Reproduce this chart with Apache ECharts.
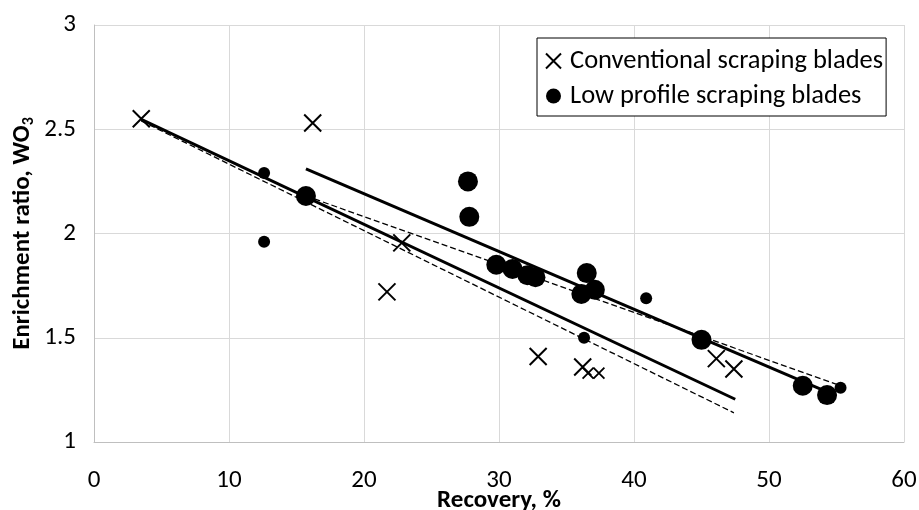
<!DOCTYPE html>
<html>
<head>
<meta charset="utf-8">
<title>Enrichment ratio vs recovery</title>
<script src="https://cdn.jsdelivr.net/npm/echarts@6/dist/echarts.min.js"></script>
<style>
  html, body { margin: 0; padding: 0; background: #fff; }
  #chart { width: 919px; height: 510px; }
</style>
</head>
<body>
<div id="chart"></div>
<script>
// conventional blades - [recovery %, enrichment ratio]
var convBig = [[3.5, 2.55], [16.2, 2.53], [22.8, 1.955], [21.7, 1.72], [32.9, 1.41], [36.2, 1.36], [46.1, 1.40], [47.4, 1.35]];
var convSmall = [[36.6, 1.33], [37.4, 1.33]];
// low profile blades
var lowBig = [[15.7, 2.18], [27.7, 2.25], [27.8, 2.08], [29.8, 1.85], [31.0, 1.83], [32.1, 1.80], [32.7, 1.79],
  [36.5, 1.81], [37.1, 1.73], [36.1, 1.71], [45.0, 1.49], [52.5, 1.27], [54.3, 1.225]];
var lowSmall = [[12.6, 2.29], [12.6, 1.96], [36.3, 1.50], [40.9, 1.69], [55.3, 1.26]];
// trend lines (end points)
var convTrend = [[3.5, 2.547], [47.5, 1.205]];
var convTrendDash = [[3.5, 2.54], [47.4, 1.14]];
var lowTrend = [[15.7, 2.31], [54.3, 1.24]];
var lowTrendDash = [[15.7, 2.18], [55.3, 1.27]];

var xTicks = [0, 10, 20, 30, 40, 50, 60];
var yTicks = [1, 1.5, 2, 2.5, 3];

var font = 'Carlito, Lato, "Open Sans", sans-serif';
var crossPath = 'path://M0,0L20,20M20,0L0,20';
var convName = 'Conventional scraping blades';
var lowName = 'Low profile scraping blades';

var chart = echarts.init(document.getElementById('chart'));

function trend(data, dashed) {
  return {
    type: 'line',
    data: data,
    symbol: 'none',
    silent: true,
    z: 2,
    lineStyle: dashed
      ? { color: '#000', width: 1.3, type: [6, 3] }
      : { color: '#000', width: 3 }
  };
}

var option = {
  animation: false,
  grid: { left: 94, right: 15, top: 25, bottom: 68, containLabel: false, outerBoundsMode: 'none' },
  legend: {
    data: [
      { name: convName, icon: crossPath },
      { name: lowName, icon: 'circle' }
    ],
    orient: 'vertical',
    left: 537,
    top: 38,
    padding: [9, 3, 6, 8],
    itemGap: 7,
    itemWidth: 15,
    itemHeight: 15,
    backgroundColor: '#fff',
    borderColor: '#000',
    borderWidth: 1,
    textStyle: { fontFamily: font, fontSize: 26.5, lineHeight: 28, color: '#000', padding: [0, 0, 0, 4] }
  },
  xAxis: {
    type: 'value',
    min: 0, max: 60, interval: 10,
    name: 'Recovery, %',
    nameLocation: 'middle',
    nameGap: 46,
    nameMoveOverlap: false,
    nameTextStyle: { fontFamily: font, fontSize: 25, fontWeight: 'bold', color: '#000' },
    axisLine: { show: true, lineStyle: { color: '#bfbfbf', width: 1 } },
    axisTick: { show: false },
    splitLine: { show: true, lineStyle: { color: '#d9d9d9', width: 1 } },
    axisLabel: {
      fontFamily: font, fontSize: 25, color: '#000', margin: 26,
      formatter: function (v) { return xTicks.indexOf(v) >= 0 ? String(v) : ''; }
    }
  },
  yAxis: {
    type: 'value',
    min: 1, max: 3, interval: 0.5,
    name: 'Enrichment ratio, WO{sub|3}',
    nameLocation: 'middle',
    nameGap: 57,
    nameMoveOverlap: false,
    nameTextStyle: {
      fontFamily: font, fontSize: 25, fontWeight: 'bold', color: '#000',
      rich: { sub: { fontFamily: font, fontSize: 16, fontWeight: 'bold', color: '#000', padding: [12, 0, 0, 0] } }
    },
    axisLine: { show: true, lineStyle: { color: '#bfbfbf', width: 1 } },
    axisTick: { show: false },
    splitLine: { show: true, lineStyle: { color: '#d9d9d9', width: 1 } },
    axisLabel: {
      fontFamily: font, fontSize: 25, color: '#000', margin: 18,
      formatter: function (v) { return yTicks.indexOf(v) >= 0 ? String(v) : ''; }
    }
  },
  series: [
    trend(convTrend, false),
    trend(convTrendDash, true),
    trend(lowTrend, false),
    trend(lowTrendDash, true),
    {
      name: convName, type: 'scatter', data: convBig, z: 5,
      symbol: crossPath, symbolSize: 17,
      itemStyle: { color: 'transparent', borderColor: '#000', borderWidth: 2, opacity: 1 }
    },
    {
      name: convName, type: 'scatter', data: convSmall, z: 5,
      symbol: crossPath, symbolSize: 11,
      itemStyle: { color: 'transparent', borderColor: '#000', borderWidth: 1.8, opacity: 1 }
    },
    {
      name: lowName, type: 'scatter', data: lowBig, z: 5,
      symbol: 'circle', symbolSize: 20,
      itemStyle: { color: '#000', opacity: 1 }
    },
    {
      name: lowName, type: 'scatter', data: lowSmall, z: 5,
      symbol: 'circle', symbolSize: 12,
      itemStyle: { color: '#000', opacity: 1 }
    }
  ]
};

chart.setOption(option);
</script>
</body>
</html>
